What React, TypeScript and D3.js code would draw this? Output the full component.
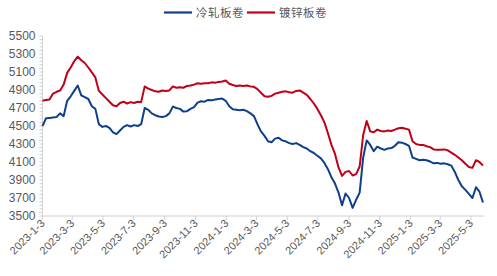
import React from "react";
import * as d3 from "d3";

const dates: string[] = [
  "2023-01-03","2023-01-10","2023-01-17","2023-01-24","2023-01-31","2023-02-07","2023-02-14","2023-02-21","2023-02-28",
  "2023-03-07","2023-03-14","2023-03-21","2023-03-28","2023-04-04","2023-04-11","2023-04-18","2023-04-25",
  "2023-05-02","2023-05-09","2023-05-16","2023-05-23","2023-05-30","2023-06-06","2023-06-13","2023-06-20","2023-06-27",
  "2023-07-04","2023-07-11","2023-07-18","2023-07-25","2023-08-01","2023-08-08","2023-08-15","2023-08-22","2023-08-29",
  "2023-09-05","2023-09-12","2023-09-19","2023-09-26","2023-10-03","2023-10-10","2023-10-17","2023-10-24","2023-10-31",
  "2023-11-07","2023-11-14","2023-11-21","2023-11-28","2023-12-05","2023-12-12","2023-12-19","2023-12-26",
  "2024-01-02","2024-01-09","2024-01-16","2024-01-23","2024-01-30","2024-02-06","2024-02-13","2024-02-20","2024-02-27",
  "2024-03-05","2024-03-12","2024-03-19","2024-03-26","2024-04-02","2024-04-09","2024-04-16","2024-04-23","2024-04-30",
  "2024-05-07","2024-05-14","2024-05-21","2024-05-28","2024-06-04","2024-06-11","2024-06-18","2024-06-25",
  "2024-07-02","2024-07-09","2024-07-16","2024-07-23","2024-07-30","2024-08-06","2024-08-13","2024-08-20","2024-08-27",
  "2024-09-03","2024-09-10","2024-09-17","2024-09-24","2024-10-01","2024-10-08","2024-10-15","2024-10-22","2024-10-29",
  "2024-11-05","2024-11-12","2024-11-19","2024-11-26","2024-12-03","2024-12-10","2024-12-17","2024-12-24","2024-12-31",
  "2025-01-07","2025-01-14","2025-01-21","2025-01-28","2025-02-04","2025-02-11","2025-02-18","2025-02-25",
  "2025-03-04","2025-03-11","2025-03-18","2025-03-25","2025-04-01","2025-04-08","2025-04-15","2025-04-22","2025-04-29",
  "2025-05-06","2025-05-13","2025-05-20","2025-05-27",
];

// 冷轧板卷 (cold rolled coil)
const coldRolled: number[] = [
  4500,4585,4590,4595,4600,4640,4610,4780,4830,4890,4950,4840,4820,4800,4720,4690,4520,
  4490,4500,4480,4430,4410,4450,4490,4510,4495,4510,4500,4520,4700,4680,4640,4620,4605,4600,
  4610,4640,4715,4700,4690,4660,4665,4690,4710,4760,4775,4770,4790,4785,4795,4800,4805,
  4780,4720,4685,4680,4675,4680,4665,4640,4610,4520,4440,4390,4330,4320,4360,4370,4340,4330,
  4310,4300,4310,4290,4265,4250,4220,4200,4170,4140,4090,4020,3930,3860,3760,3620,3750,
  3700,3590,3680,3760,4150,4340,4290,4220,4270,4250,4235,4250,4255,4280,4320,4315,4300,4280,
  4150,4135,4120,4125,4120,4105,4085,4090,4080,4085,4075,4060,3990,3900,3830,3790,3745,
  3700,3820,3770,3650,
];

// 镀锌板卷 (galvanized coil)
const galvanized: number[] = [
  4780,4790,4795,4860,4880,4895,4960,5090,5150,5220,5270,5230,5200,5150,5095,5040,4890,
  4850,4810,4770,4730,4720,4755,4770,4750,4765,4755,4770,4765,4940,4915,4900,4885,4880,4895,
  4890,4895,4940,4925,4930,4925,4945,4950,4960,4975,4970,4975,4975,4985,4980,4990,4995,
  5005,4970,4955,4945,4950,4945,4950,4940,4935,4910,4870,4830,4825,4835,4860,4870,4880,4885,
  4875,4870,4890,4895,4870,4845,4800,4750,4690,4620,4540,4420,4290,4190,4040,3945,3990,
  4000,3950,3965,4050,4400,4555,4440,4430,4460,4445,4440,4450,4445,4460,4475,4480,4470,4460,
  4330,4300,4290,4290,4275,4265,4240,4235,4235,4240,4230,4205,4180,4150,4120,4080,4045,
  4035,4120,4100,4060,
];

const seriesNames: string[] = ["冷轧板卷", "镀锌板卷"];
const seriesColors: string[] = ["#0f3f8c", "#c00016"];

const xTickLabels: string[] = [
  "2023-1-3","2023-3-3","2023-5-3","2023-7-3","2023-9-3","2023-11-3",
  "2024-1-3","2024-3-3","2024-5-3","2024-7-3","2024-9-3","2024-11-3",
  "2025-1-3","2025-3-3","2025-5-3",
];
const yTicks: number[] = [3500,3700,3900,4100,4300,4500,4700,4900,5100,5300,5500];

const W = 497, H = 276;
const left = 42.5, right = 484, top = 36, bottom = 216;

export default function App() {
  const parse = d3.timeParse("%Y-%m-%d");
  const x = d3.scaleTime()
    .domain([parse("2023-01-03")!, parse("2025-05-29")!])
    .range([left, right]);
  const y = d3.scaleLinear().domain([3500, 5500]).range([bottom, top]);
  const minor = d3.range(3500, 5501, 40);

  const pts = dates.map((d) => parse(d)!);
  const line = (vals: number[]) =>
    d3.line<number>()
      .x((_, i) => x(pts[i]))
      .y((v) => y(v))(vals) || "";

  const tickParse = d3.timeParse("%Y-%m-%d");
  const xTicks = xTickLabels.map((l) => {
    const [yy, mm, dd] = l.split("-");
    return { label: l, date: tickParse(`${yy}-${mm.padStart(2, "0")}-${dd.padStart(2, "0")}`)! };
  });

  const font = "'Liberation Sans', Arial, sans-serif";
  const axisColor = "#d0d0d0";
  const textColor = "#595959";

  return (
    <svg width={W} height={H} style={{ position: "absolute", left: 0, top: 0, background: "#fff" }}>
      {/* legend */}
      <g>
        <line x1={164} x2={192} y1={12.5} y2={12.5} stroke={seriesColors[0]} strokeWidth={2.2} />
        <text x={196} y={16.5} fontSize={11.5} fill={textColor} fontFamily="'Noto Sans CJK SC', sans-serif" letterSpacing={0.5}>{seriesNames[0]}</text>
        <line x1={247} x2={275} y1={12.5} y2={12.5} stroke={seriesColors[1]} strokeWidth={2.2} />
        <text x={279} y={16.5} fontSize={11.5} fill={textColor} fontFamily="'Noto Sans CJK SC', sans-serif" letterSpacing={0.5}>{seriesNames[1]}</text>
      </g>
      {/* y axis */}
      <line x1={left} x2={left} y1={top} y2={bottom} stroke={axisColor} strokeWidth={1} />
      {minor.map((v) => (
        <line key={"m" + v} x1={left - 3} x2={left} y1={y(v)} y2={y(v)} stroke={axisColor} strokeWidth={1} />
      ))}
      {yTicks.map((v) => (
        <text key={"yt" + v} x={left - 7} y={y(v) + 4} fontSize={12} textAnchor="end" fill={textColor} fontFamily={font}>{v}</text>
      ))}
      {/* x axis */}
      <line x1={left} x2={right} y1={bottom} y2={bottom} stroke={axisColor} strokeWidth={1} />
      {xTicks.map((t) => (
        <g key={t.label}>
          <line x1={x(t.date)} x2={x(t.date)} y1={bottom} y2={bottom + 4} stroke={axisColor} strokeWidth={1} />
          <text
            transform={`translate(${x(t.date) + 3},${bottom + 8}) rotate(-45)`}
            fontSize={11}
            textAnchor="end"
            fill={textColor}
            fontFamily={font}
          >{t.label}</text>
        </g>
      ))}
      {/* series */}
      <path d={line(galvanized)} fill="none" stroke={seriesColors[1]} strokeWidth={2} strokeLinejoin="round" />
      <path d={line(coldRolled)} fill="none" stroke={seriesColors[0]} strokeWidth={2} strokeLinejoin="round" />
    </svg>
  );
}
